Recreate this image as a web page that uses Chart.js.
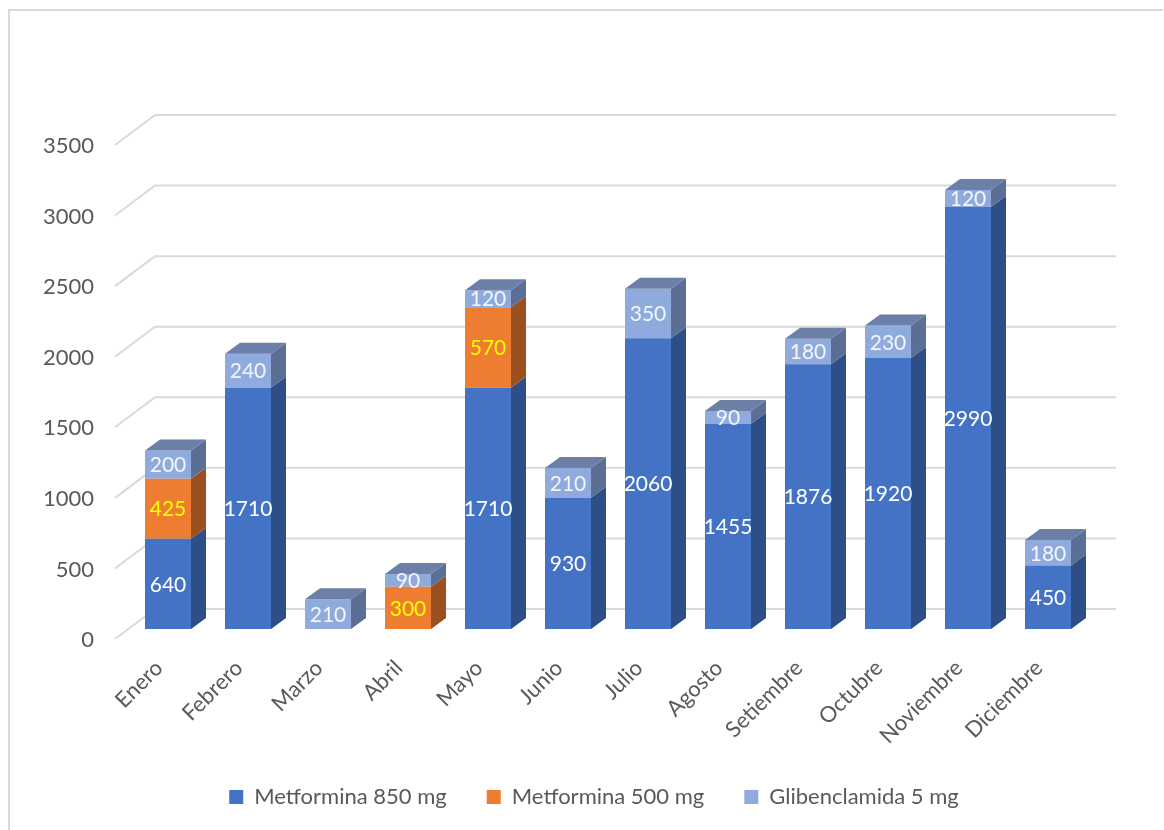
<!DOCTYPE html>
<html>
<head>
<meta charset="utf-8">
<title>Consumo mensual de antidiabéticos</title>
<script src="https://cdn.jsdelivr.net/npm/chart.js@4/dist/chart.umd.min.js"></script>
<style>
  html, body { margin: 0; padding: 0; background: #ffffff; }
  canvas { display: block; }
</style>
</head>
<body>
<canvas id="chart" width="1164" height="830"></canvas>
<script>
// ---- data ----
const months = ['Enero', 'Febrero', 'Marzo', 'Abril', 'Mayo', 'Junio', 'Julio',
                'Agosto', 'Setiembre', 'Octubre', 'Noviembre', 'Diciembre'];
const metformina850 = [640, 1710, null, null, 1710, 930, 2060, 1455, 1876, 1920, 2990, 450];
const metformina500 = [425, null, null, 300, 570, null, null, null, null, null, null, null];
const glibenclamida5 = [200, 240, 210, 90, 120, 210, 350, 90, 180, 230, 120, 180];
const seriesNames = ['Metformina 850 mg', 'Metformina 500 mg', 'Glibenclamida 5 mg'];
const yMin = 0, yMax = 3500, yStep = 500;

// ---- look ----
const FONT = "Lato, 'Open Sans', 'Noto Sans', sans-serif";
const TEXT_GREY = '#595959';
const GRID_GREY = '#d9d9d9';
const palette = [
  { front: '#4472C4', side: '#2E4E88', top: '#5A78B4', text: '#ffffff' },
  { front: '#ED7D31', side: '#9C4F1F', top: '#C0662A', text: '#FFFF00' },
  { front: '#8FAADC', side: '#5B6E96', top: '#6B7FA7', text: '#F4F6FB' }
];
// depth of the 3-D prisms and of the floor/back wall (px)
const BAR_DX = 15, BAR_DY = 11;
const WALL_DX = 40, WALL_DY = 30, FRONT_INSET = 13;
// the legend is centred on the whole frame rather than on the plot
const LEGEND_SHIFT = 50;

Chart.defaults.font.family = FONT;
Chart.defaults.color = TEXT_GREY;

// light frame around the chart
const framePlugin = {
  id: 'frame',
  beforeDraw(chart) {
    const ctx = chart.ctx;
    ctx.save();
    ctx.strokeStyle = GRID_GREY;
    ctx.lineWidth = 2;
    ctx.beginPath();
    ctx.moveTo(9, chart.height + 5);
    ctx.lineTo(9, 10);
    ctx.lineTo(chart.width - 1, 10);
    ctx.stroke();
    ctx.restore();
  }
};

// move the legend box sideways once the layout is known
const legendShiftPlugin = {
  id: 'legendShift',
  afterLayout(chart) {
    if (chart.legend) {
      chart.legend.left += LEGEND_SHIFT;
      chart.legend.right += LEGEND_SHIFT;
    }
  }
};

// back-wall gridlines with their slanted floor edge
const wallGridPlugin = {
  id: 'wallGrid',
  beforeDatasetsDraw(chart) {
    const { ctx, chartArea } = chart;
    const ys = chart.scales.y;
    const x0 = chartArea.left - FRONT_INSET;
    const x1 = x0 + WALL_DX;
    const x2 = chartArea.right + 28;
    ctx.save();
    ctx.strokeStyle = GRID_GREY;
    ctx.lineWidth = 2;
    for (let v = yMin; v <= yMax; v += yStep) {
      const py = ys.getPixelForValue(v) - 1;
      ctx.beginPath();
      ctx.moveTo(x0, py);
      ctx.lineTo(x1, py - WALL_DY);
      ctx.lineTo(x2, py - WALL_DY);
      ctx.stroke();
    }
    ctx.restore();
  }
};

// side and top faces that turn each column into a prism
const prismPlugin = {
  id: 'prism',
  afterDatasetsDraw(chart) {
    const ctx = chart.ctx;
    const n = chart.data.labels.length;
    const dsCount = chart.data.datasets.length;
    ctx.save();
    for (let i = 0; i < n; i++) {
      let topDs = -1;
      for (let d = 0; d < dsCount; d++) {
        const v = chart.data.datasets[d].data[i];
        if (v) topDs = d;
      }
      for (let d = 0; d < dsCount; d++) {
        const v = chart.data.datasets[d].data[i];
        if (!v) continue;
        const el = chart.getDatasetMeta(d).data[i];
        const { x, y, base, width } = el.getProps(['x', 'y', 'base', 'width'], true);
        const left = x - width / 2, right = x + width / 2;
        const top = Math.min(y, base), bottom = Math.max(y, base);
        // right side face
        ctx.fillStyle = palette[d].side;
        ctx.beginPath();
        ctx.moveTo(right, top);
        ctx.lineTo(right + BAR_DX, top - BAR_DY);
        ctx.lineTo(right + BAR_DX, bottom - BAR_DY);
        ctx.lineTo(right, bottom);
        ctx.closePath();
        ctx.fill();
        // top face on the highest segment
        if (d === topDs) {
          ctx.fillStyle = palette[d].top;
          ctx.beginPath();
          ctx.moveTo(left, top);
          ctx.lineTo(left + BAR_DX, top - BAR_DY);
          ctx.lineTo(right + BAR_DX, top - BAR_DY);
          ctx.lineTo(right, top);
          ctx.closePath();
          ctx.fill();
        }
      }
    }
    ctx.restore();
  }
};

// value written in the middle of each segment
const valueLabelPlugin = {
  id: 'valueLabels',
  afterDatasetsDraw(chart) {
    const ctx = chart.ctx;
    ctx.save();
    ctx.font = '21px ' + FONT;
    ctx.textAlign = 'center';
    ctx.textBaseline = 'middle';
    chart.data.datasets.forEach((ds, d) => {
      chart.getDatasetMeta(d).data.forEach((el, i) => {
        const v = ds.data[i];
        if (!v) return;
        const { x, y, base } = el.getProps(['x', 'y', 'base'], true);
        ctx.fillStyle = palette[d].text;
        ctx.fillText(String(v), x, (y + base) / 2 + 1);
      });
    });
    ctx.restore();
  }
};

const seriesData = [metformina850, metformina500, glibenclamida5];

new Chart(document.getElementById('chart'), {
  type: 'bar',
  data: {
    labels: months,
    datasets: seriesData.map((values, d) => ({
      label: seriesNames[d],
      data: values,
      yAxisID: 'yBar',
      backgroundColor: palette[d].front,
      borderWidth: 0,
      barPercentage: 0.575,
      categoryPercentage: 1
    }))
  },
  options: {
    responsive: false,
    animation: false,
    layout: { padding: { left: 0, right: 76, top: 146, bottom: 12 } },
    plugins: {
      tooltip: { enabled: false },
      legend: {
        position: 'bottom',
        labels: {
          boxWidth: 14,
          boxHeight: 14,
          padding: 40,
          color: TEXT_GREY,
          font: { size: 22, family: FONT }
        }
      }
    },
    scales: {
      x: {
        stacked: true,
        offset: true,
        grid: { display: false, drawTicks: false },
        border: { display: false },
        ticks: {
          autoSkip: false,
          minRotation: 45,
          maxRotation: 45,
          padding: 15,
          labelOffset: -9,
          color: TEXT_GREY,
          font: { size: 22, family: FONT }
        },
        afterFit(scale) { scale.height = 106; }
      },
      y: {
        position: 'left',
        min: yMin,
        max: yMax,
        grid: { display: false, drawTicks: false },
        border: { display: false },
        ticks: {
          stepSize: yStep,
          padding: 34,
          color: TEXT_GREY,
          font: { size: 22, family: FONT },
          callback: (value) => String(value)
        },
        afterFit(scale) { scale.width = 128; }
      },
      yBar: {
        display: false,
        stacked: true,
        min: yMin - 78,
        max: yMax - 78
      }
    }
  },
  plugins: [framePlugin, legendShiftPlugin, wallGridPlugin, prismPlugin, valueLabelPlugin]
});
</script>
</body>
</html>
